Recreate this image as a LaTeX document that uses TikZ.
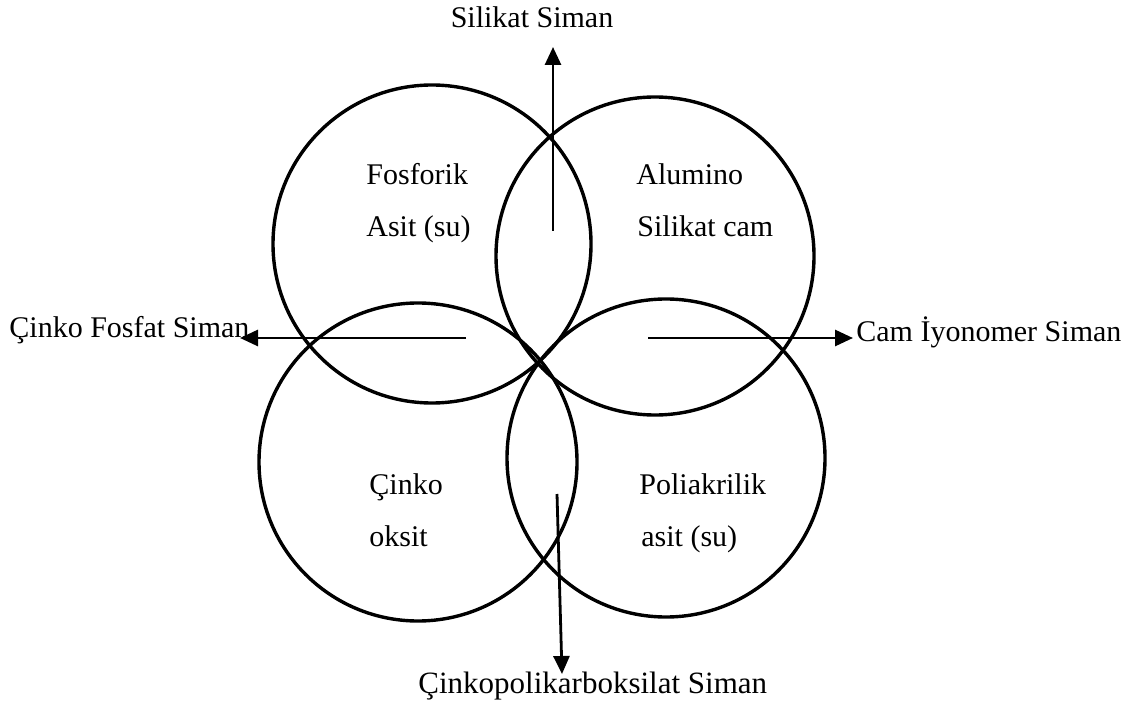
\documentclass[tikz,border=0pt]{standalone}
\usepackage{fontspec}
\setmainfont{Liberation Serif}
\usetikzlibrary{arrows.meta}
\begin{document}
\begin{tikzpicture}[x=0.5pt, y=-0.5pt,
    ring/.style={circle, draw, line width=1.7pt, minimum size=159pt, inner sep=0pt},
    txt/.style={font=\fontsize{15}{18}\selectfont, inner sep=0pt, anchor=base west},
    arr/.style={line width=1.4pt, -{Triangle[length=9pt, width=8pt]}}]
    \useasboundingbox (0,0) rectangle (1127,715);
    \node[ring] (fosforik) at (432,244) {};
    \node[ring] (alumino) at (655,256) {};
    \node[ring] (cinko) at (418,462) {};
    \node[ring] (poliakrilik) at (666,458) {};
    \node[txt] (fosforik1) at (366,185) {Fosforik};
    \node[txt] (fosforik2) at (366,237) {Asit (su)};
    \node[txt] (alumino1) at (636,185) {Alumino};
    \node[txt] (alumino2) at (637,237) {Silikat cam};
    \node[txt] (cinko1) at (369,494) {Çinko};
    \node[txt] (cinko2) at (369,546) {oksit};
    \node[txt] (poliakrilik1) at (639,494) {Poliakrilik};
    \node[txt] (poliakrilik2) at (641,546) {asit (su)};
    \node[txt, anchor=base] (silikat) at (532,28) {Silikat Siman};
    \node[txt] (fosfat) at (9,338) {Çinko Fosfat Siman};
    \node[txt] (iyonomer) at (856,342) {Cam İyonomer Siman};
    \node[txt, font=\fontsize{15.5}{18}\selectfont] (karboksilat) at (418,693) {Çinkopolikarboksilat Siman};
    \coordinate (up0) at (553,231);
    \coordinate (up1) at (553,47);
    \coordinate (left0) at (466,338);
    \coordinate (left1) at (240,338);
    \coordinate (right0) at (648,338);
    \coordinate (right1) at (853,338);
    \coordinate (down0) at (557,494);
    \coordinate (down1) at (562,674);
    \draw[arr] (up0) -- (up1);
    \draw[arr] (left0) -- (left1);
    \draw[arr] (right0) -- (right1);
    \draw[arr] (down0) -- (down1);
\end{tikzpicture}
\end{document}
